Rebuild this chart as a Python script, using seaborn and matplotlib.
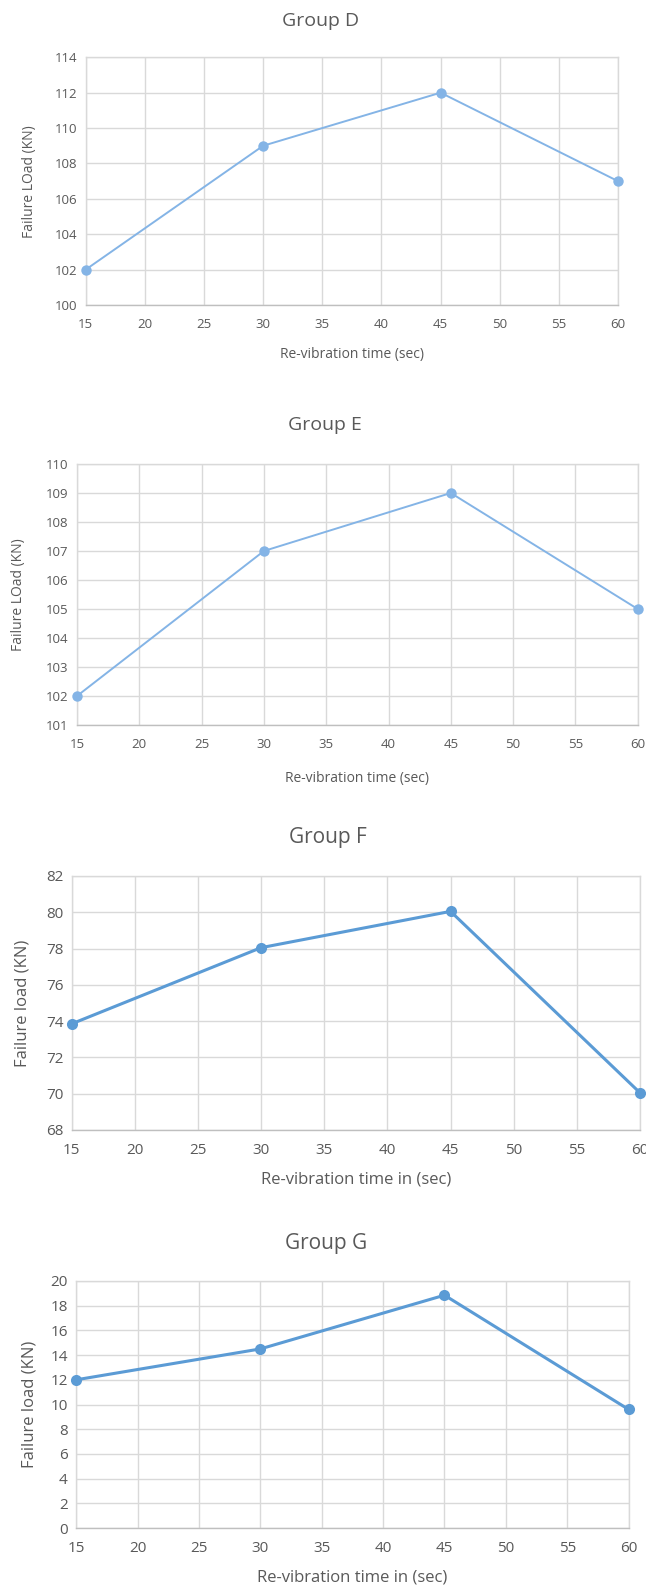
import matplotlib
matplotlib.use("Agg")
import matplotlib.pyplot as plt
import seaborn as sns
import pandas as pd

# ---- data ----
times = [15, 30, 45, 60]
load_d = [102, 109, 112, 107]
load_e = [102, 107, 109, 105]
load_f = [73.85, 78.05, 80.05, 70.05]
load_g = [12.0, 14.5, 18.85, 9.6]

titles = ["Group D", "Group E", "Group F", "Group G"]
ylabels = ["Failure LOad (KN)", "Failure LOad (KN)", "Failure load (KN)", "Failure load (KN)"]
xlabels = ["Re-vibration time (sec)", "Re-vibration time (sec)",
           "Re-vibration time in (sec)", "Re-vibration time in (sec)"]
y_ticks = [list(range(100, 115, 2)), list(range(101, 111, 1)),
           list(range(68, 83, 2)), list(range(0, 21, 2))]
x_ticks = list(range(15, 61, 5))

sns.set_style("whitegrid")
plt.rcParams['font.family'] = ['Open Sans', 'DejaVu Sans']

W, H = 646, 1586
fig = plt.figure(figsize=(W / 100, H / 100), dpi=100)
fig.patch.set_facecolor("white")

# pixel boxes: left, right, top, bottom
boxes = [(85.7, 618, 57.3, 305), (77, 637.7, 464, 725),
         (71.6, 640, 876, 1130), (76.2, 628.6, 1281, 1528)]
title_pos = [(321, 20.7), (325, 425), (328, 837), (326, 1243)]
ylabel_x = [30, 19, 23, 29]
xlabel_pad = [12, 15, 10, 10]
styles = [dict(color="#84B4E6", lw=1.4, ms=7.5, fs=9.5, tfs=14, lfs=10),
          dict(color="#84B4E6", lw=1.4, ms=7.5, fs=9.5, tfs=14, lfs=10),
          dict(color="#5B9BD5", lw=2.2, ms=8, fs=11, tfs=15, lfs=12),
          dict(color="#5B9BD5", lw=2.2, ms=8, fs=11, tfs=15, lfs=12)]
all_loads = [load_d, load_e, load_f, load_g]
text_col = "#595959"

for i in range(4):
    l, r, t, b = boxes[i]
    ax = fig.add_axes([l / W, 1 - b / H, (r - l) / W, (b - t) / H])
    st = styles[i]
    df = pd.DataFrame({"time": times, "load": all_loads[i]})
    sns.lineplot(data=df, x="time", y="load", ax=ax, color=st["color"],
                 linewidth=st["lw"], marker="o", markersize=st["ms"],
                 markeredgewidth=0, clip_on=False, zorder=5)
    ax.set_xlim(15, 60)
    ax.set_ylim(y_ticks[i][0], y_ticks[i][-1])
    ax.set_xticks(x_ticks)
    ax.set_yticks(y_ticks[i])
    ax.grid(True, color="#D9D9D9", linewidth=1.0)
    for s in ax.spines.values():
        s.set_color("#D9D9D9")
        s.set_linewidth(1.0)
    ax.spines["bottom"].set_color("#BFBFBF")
    ax.tick_params(axis="both", length=0, labelsize=st["fs"], colors=text_col, pad=6)
    ax.tick_params(axis="x", pad=9)
    ax.set_xlabel(xlabels[i], fontsize=st["lfs"], color=text_col, labelpad=xlabel_pad[i])
    ax.set_ylabel("")
    fig.text(ylabel_x[i] / W, 1 - ((t + b) / 2) / H, ylabels[i], rotation=90,
             ha="center", va="center", fontsize=st["lfs"], color=text_col)
    tx, ty = title_pos[i]
    fig.text(tx / W, 1 - ty / H, titles[i], ha="center", va="center",
             fontsize=st["tfs"], color=text_col)

fig.savefig("out.png", dpi=100, facecolor="white")
